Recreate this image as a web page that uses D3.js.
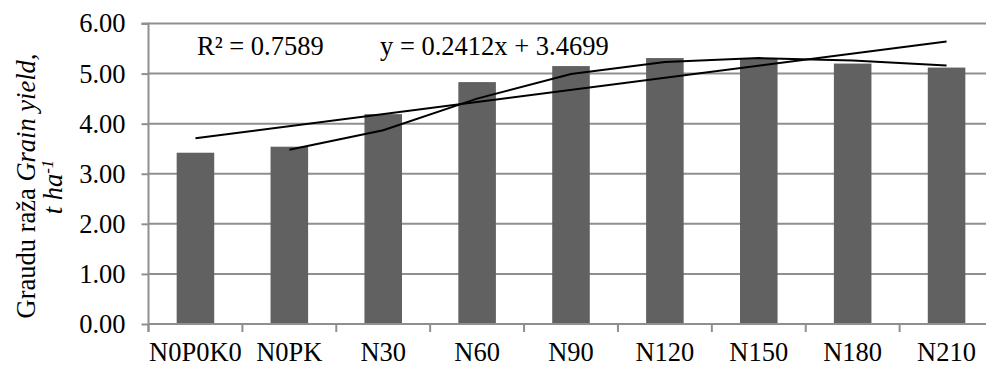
<!DOCTYPE html>
<html><head><meta charset="utf-8">
<script src="https://cdn.jsdelivr.net/npm/d3@7"></script>
<style>
html,body{margin:0;padding:0;background:#fff;}
svg{display:block;}
text{font-family:"Liberation Serif","Times New Roman",serif;fill:#000;}
</style></head>
<body><svg id="c" width="986" height="367"></svg>
<script>
const categories = ["N0P0K0","N0PK","N30","N60","N90","N120","N150","N180","N210"];
const yieldValues = [3.42, 3.54, 4.19, 4.83, 5.15, 5.31, 5.31, 5.20, 5.12];
// 2-period moving average trendline (starts at N0PK)
const movingAvgCats = ["N0PK","N30","N60","N90","N120","N150","N180","N210"];
const movingAvgValues = [3.48, 3.87, 4.50, 4.99, 5.23, 5.31, 5.26, 5.16];
// linear trendline end points
const linearCats = ["N0P0K0","N210"];
const linearValues = [3.71, 5.64];
const yTicks = [0,1,2,3,4,5,6];
const r2Label = "R² = 0.7589";
const eqLabel = "y = 0.2412x + 3.4699";

const FS = 26.5;
const svg = d3.select("#c");
const L = 148.5, R = 993.5, T = 23.5, B = 324;
const x = d3.scaleBand().domain(categories).range([L, R]).paddingInner(0.6).paddingOuter(0.3);
const xc = d => x(d) + x.bandwidth()/2;
const y = d3.scaleLinear().domain([0,6]).range([B, T]);
const grid = "#8f8f8f";

// gridlines
svg.append("g").selectAll("line").data(yTicks.filter(d=>d>0)).join("line")
  .attr("x1", L).attr("x2", R).attr("y1", d=>y(d)).attr("y2", d=>y(d))
  .attr("stroke", grid).attr("stroke-width", 2);

// bars
svg.append("g").selectAll("rect").data(categories).join("rect")
  .attr("x", d=>x(d)).attr("width", x.bandwidth())
  .attr("y", (d,i)=>y(yieldValues[i])).attr("height", (d,i)=>B - y(yieldValues[i]))
  .attr("fill", "#616161");

// y axis
const yAxis = d3.axisLeft(y).tickValues(yTicks).tickFormat(d3.format(".2f")).tickSize(7).tickPadding(16);
const ya = svg.append("g").attr("transform", `translate(${L},0)`).call(yAxis);
ya.select(".domain").attr("stroke", grid).attr("stroke-width", 2).attr("d", `M-7,${T}H0V${B+8}`);
ya.selectAll(".tick line").attr("stroke", grid).attr("stroke-width", 2);
ya.selectAll(".tick text").attr("font-size", FS).attr("font-family", "Liberation Serif").attr("fill", "#000").attr("dy", "0.32em");

// x axis
const xa = svg.append("g").attr("transform", `translate(0,${B})`);
xa.append("line").attr("x1", L).attr("x2", R).attr("stroke", grid).attr("stroke-width", 2);
const step = x.step();
xa.selectAll("line.tk").data(d3.range(categories.length+1)).join("line").attr("class","tk")
  .attr("x1", i=>L + i*step).attr("x2", i=>L + i*step).attr("y1", 0).attr("y2", 8)
  .attr("stroke", grid).attr("stroke-width", 2);
xa.selectAll("text").data(categories).join("text")
  .attr("x", d=>xc(d)).attr("y", 37).attr("text-anchor","middle").attr("font-size", FS).text(d=>d);

// trendlines
const line = d3.line().x(d=>xc(d[0])).y(d=>y(d[1]));
svg.append("path").datum(linearCats.map((c,i)=>[c, linearValues[i]]))
  .attr("d", line).attr("fill","none").attr("stroke","#000").attr("stroke-width",2);
svg.append("path").datum(movingAvgCats.map((c,i)=>[c, movingAvgValues[i]]))
  .attr("d", line).attr("fill","none").attr("stroke","#000").attr("stroke-width",2);

// labels
svg.append("text").attr("x", 197).attr("y", 55).attr("font-size", FS).text(r2Label);
svg.append("text").attr("x", 380).attr("y", 55).attr("font-size", FS).text(eqLabel);

// y title
const t1 = svg.append("text").attr("transform","translate(35,186) rotate(-90)").attr("text-anchor","middle").attr("font-size",FS);
t1.append("tspan").text("Graudu raža ");
t1.append("tspan").attr("font-style","italic").text("Grain yield,");
const t2 = svg.append("text").attr("transform","translate(62,187) rotate(-90)").attr("text-anchor","middle").attr("font-size",FS).attr("font-style","italic");
t2.append("tspan").text("t ha");
t2.append("tspan").attr("baseline-shift","super").attr("font-size",17).text("-1");
</script></body></html>
